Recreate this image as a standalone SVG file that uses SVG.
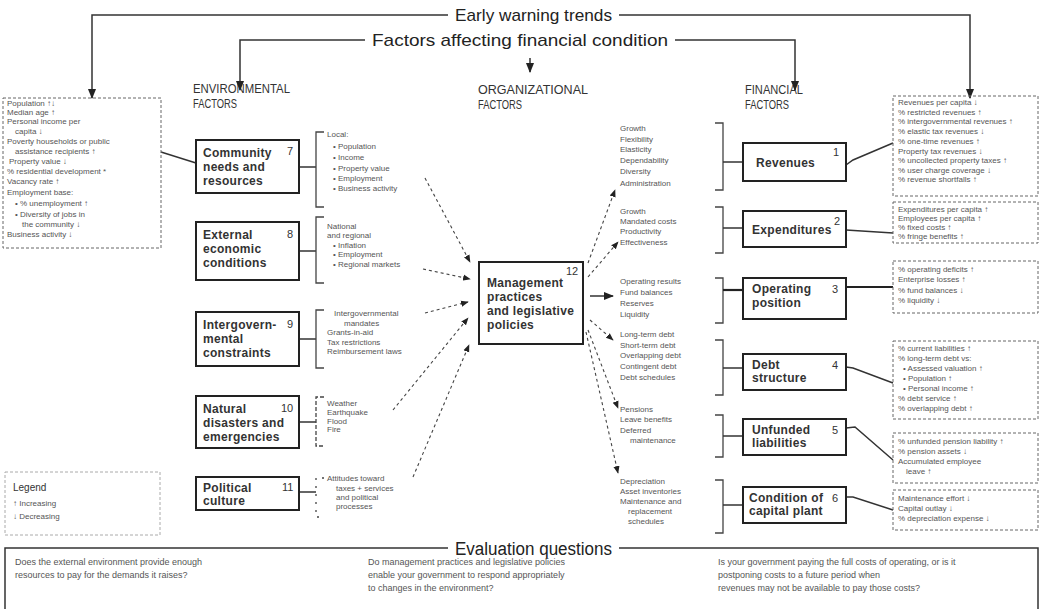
<svg xmlns="http://www.w3.org/2000/svg" width="1043" height="609" viewBox="0 0 1043 609">
<style>
  .bg { fill: #ffffff; }
  .head { font-family: "Liberation Sans Narrow", "Liberation Sans", sans-serif; font-size: 17px; fill: #222; }
  .col { font-family: "Liberation Sans Narrow", "Liberation Sans", sans-serif; font-size: 13px; fill: #333; }
  .box { fill: #fff; stroke: #222; stroke-width: 2; }
  .lbl { font-family: "Liberation Sans", sans-serif; font-size: 12px; font-weight: bold; fill: #333; letter-spacing: 0.3px; }
  .num { font-family: "Liberation Sans", sans-serif; font-size: 11px; fill: #333; }
  .sm { font-family: "Liberation Sans", sans-serif; font-size: 8px; fill: #555; }
  .ind { fill: none; stroke: #666; stroke-width: 1; stroke-dasharray: 3 2; }
  .brk { fill: none; stroke: #444; stroke-width: 1.3; }
  .line { fill: none; stroke: #333; stroke-width: 1.5; }
  .thick { fill: none; stroke: #222; stroke-width: 2.2; }
  .dash { fill: none; stroke: #444; stroke-width: 1.1; stroke-dasharray: 3 3; }
  .q { font-family: "Liberation Sans", sans-serif; font-size: 9px; fill: #555; }
  .leg { font-family: "Liberation Sans", sans-serif; font-size: 10px; fill: #333; }
</style>
<defs>
  <marker id="ah" viewBox="0 0 10 10" refX="9" refY="5" markerWidth="7" markerHeight="7" orient="auto-start-reverse">
    <path d="M0,1 L10,5 L0,9 Z" fill="#222"/>
  </marker>
</defs>
<rect class="bg" x="0" y="0" width="1043" height="609"/>

<!-- headings with their distribution lines -->
<g id="headings">
  <text class="head" x="455" y="21" textLength="157" lengthAdjust="spacingAndGlyphs">Early warning trends</text>
  <text class="head" x="372" y="46" textLength="296" lengthAdjust="spacingAndGlyphs">Factors affecting financial condition</text>
  <text class="col" x="193" y="93" textLength="97" lengthAdjust="spacingAndGlyphs">ENVIRONMENTAL</text>
  <text class="col" x="193" y="108" textLength="44" lengthAdjust="spacingAndGlyphs">FACTORS</text>
  <text class="col" x="478" y="94" textLength="110" lengthAdjust="spacingAndGlyphs">ORGANIZATIONAL</text>
  <text class="col" x="478" y="109" textLength="44" lengthAdjust="spacingAndGlyphs">FACTORS</text>
  <text class="col" x="745" y="94" textLength="58" lengthAdjust="spacingAndGlyphs">FINANCIAL</text>
  <text class="col" x="745" y="109" textLength="44" lengthAdjust="spacingAndGlyphs">FACTORS</text>
</g>

<g id="connectors">
  <!-- early warning trends -->
  <polyline class="line" points="448,15 92,15 92,98" marker-end="url(#ah)"/>
  <polyline class="line" points="619,15 970,15 970,98" marker-end="url(#ah)"/>
  <!-- factors affecting financial condition -->
  <polyline class="line" points="365,40 240,40 240,90" marker-end="url(#ah)"/>
  <polyline class="line" points="675,40 795,40 795,90" marker-end="url(#ah)"/>
  <line class="line" x1="530" y1="58" x2="530" y2="72" marker-end="url(#ah)"/>

  <!-- environmental boxes to brackets -->
  <line class="line" x1="299" y1="167" x2="316" y2="167"/>
  <line class="line" x1="299" y1="251" x2="316" y2="251"/>
  <line class="line" x1="299" y1="339" x2="316" y2="339"/>
  <line class="line" x1="299" y1="422" x2="316" y2="422"/>
  <line class="line" x1="299" y1="492" x2="316" y2="492"/>
  <path class="brk" d="M324,132 H316 V207 H324"/>
  <path class="brk" d="M324,217 H316 V283 H324"/>
  <path class="brk" d="M324,310 H316 V368 H324"/>
  <path class="brk" d="M324,397 H316 V446 H324" stroke-dasharray="4 2"/>
  <path class="brk" d="M324,478 H316 V517 H324" stroke-dasharray="2 6"/>

  <!-- environmental factors into management -->
  <line class="dash" x1="425" y1="178" x2="470" y2="262" marker-end="url(#ah)"/>
  <line class="dash" x1="423" y1="269" x2="470" y2="279" marker-end="url(#ah)"/>
  <line class="dash" x1="425" y1="313" x2="468" y2="302" marker-end="url(#ah)"/>
  <line class="dash" x1="393" y1="410" x2="468" y2="318" marker-end="url(#ah)"/>
  <line class="dash" x1="413" y1="477" x2="469" y2="345" marker-end="url(#ah)"/>

  <!-- management out to organizational factors -->
  <line class="dash" x1="588" y1="263" x2="615" y2="190" marker-end="url(#ah)"/>
  <line class="dash" x1="588" y1="277" x2="618" y2="242" marker-end="url(#ah)"/>
  <line class="line" x1="590" y1="296" x2="613" y2="296" marker-end="url(#ah)"/>
  <line class="dash" x1="590" y1="320" x2="613" y2="340" marker-end="url(#ah)"/>
  <line class="dash" x1="588" y1="330" x2="618" y2="408" marker-end="url(#ah)"/>
  <line class="dash" x1="586" y1="332" x2="618" y2="473" marker-end="url(#ah)"/>

  <!-- brackets to financial boxes -->
  <path class="brk" d="M715,123 H723 V190 H715"/>
  <path class="brk" d="M715,207 H723 V253 H715"/>
  <path class="brk" d="M715,278 H723 V323 H715"/>
  <path class="brk" d="M715,340 H723 V395 H715"/>
  <path class="brk" d="M715,415 H723 V457 H715"/>
  <path class="brk" d="M715,480 H723 V533 H715"/>
  <line class="line" x1="723" y1="162" x2="743" y2="162"/>
  <line class="line" x1="723" y1="228" x2="743" y2="228"/>
  <line class="thick" x1="723" y1="290" x2="743" y2="290"/>
  <line class="line" x1="723" y1="368" x2="743" y2="368"/>
  <line class="line" x1="723" y1="436" x2="743" y2="436"/>
  <line class="line" x1="723" y1="505" x2="743" y2="505"/>

  <!-- financial boxes to indicator lists -->
  <polyline class="line" points="846,165 853,160 893,143"/>
  <line class="line" x1="846" y1="230" x2="893" y2="233"/>
  <line class="thick" x1="846" y1="287" x2="893" y2="287"/>
  <polyline class="line" points="846,367 853,368 893,383"/>
  <polyline class="line" points="846,428 855,427 893,460"/>
  <polyline class="line" points="846,497 853,497 893,510"/>

  <!-- community trends to community box -->
  <line class="line" x1="161" y1="152" x2="196" y2="163"/>
</g>

<!-- environmental trend indicators -->
<g id="env-indicators">
  <rect class="ind" x="3" y="98" width="158" height="150"/>
  <text class="sm" x="7" y="106">Population ↑↓</text>
  <text class="sm" x="7" y="115">Median age ↑</text>
  <text class="sm" x="7" y="124">Personal income per</text>
  <text class="sm" x="15" y="134">capita ↓</text>
  <text class="sm" x="7" y="144">Poverty households or public</text>
  <text class="sm" x="15" y="154">assistance recipients ↑</text>
  <text class="sm" x="9" y="164">Property value ↓</text>
  <text class="sm" x="7" y="174">% residential development *</text>
  <text class="sm" x="7" y="184">Vacancy rate ↑</text>
  <text class="sm" x="7" y="195">Employment base:</text>
  <text class="sm" x="15" y="206">• % unemployment ↑</text>
  <text class="sm" x="15" y="217">• Diversity of jobs in</text>
  <text class="sm" x="22" y="227">the community ↓</text>
  <text class="sm" x="7" y="237">Business activity ↓</text>
</g>

<g id="community">
  <rect class="box" x="196" y="140" width="103" height="53"/>
  <text class="lbl" x="203" y="157">Community</text>
  <text class="lbl" x="203" y="171">needs and</text>
  <text class="lbl" x="203" y="185">resources</text>
  <text class="num" x="287" y="155">7</text>
  <text class="sm" x="327" y="137">Local:</text>
  <text class="sm" x="333" y="149">• Population</text>
  <text class="sm" x="333" y="160">• Income</text>
  <text class="sm" x="333" y="171">• Property value</text>
  <text class="sm" x="333" y="181">• Employment</text>
  <text class="sm" x="333" y="191">• Business activity</text>
</g>

<g id="external">
  <rect class="box" x="196" y="222" width="103" height="58"/>
  <text class="lbl" x="203" y="239">External</text>
  <text class="lbl" x="203" y="253">economic</text>
  <text class="lbl" x="203" y="267">conditions</text>
  <text class="num" x="287" y="238">8</text>
  <text class="sm" x="327" y="229">National</text>
  <text class="sm" x="327" y="238">and regional</text>
  <text class="sm" x="333" y="248">• Inflation</text>
  <text class="sm" x="333" y="257">• Employment</text>
  <text class="sm" x="333" y="267">• Regional markets</text>
</g>

<g id="intergovernmental">
  <rect class="box" x="196" y="312" width="103" height="54"/>
  <text class="lbl" x="203" y="329">Intergovern-</text>
  <text class="lbl" x="203" y="343">mental</text>
  <text class="lbl" x="203" y="357">constraints</text>
  <text class="num" x="287" y="328">9</text>
  <text class="sm" x="334" y="316">Intergovernmental</text>
  <text class="sm" x="344" y="326">mandates</text>
  <text class="sm" x="327" y="335">Grants-in-aid</text>
  <text class="sm" x="327" y="345">Tax restrictions</text>
  <text class="sm" x="327" y="354">Reimbursement laws</text>
</g>

<g id="natural">
  <rect class="box" x="196" y="396" width="103" height="52"/>
  <text class="lbl" x="203" y="413">Natural</text>
  <text class="lbl" x="203" y="427">disasters and</text>
  <text class="lbl" x="203" y="441">emergencies</text>
  <text class="num" x="281" y="412">10</text>
  <text class="sm" x="327" y="406">Weather</text>
  <text class="sm" x="327" y="415">Earthquake</text>
  <text class="sm" x="327" y="424">Flood</text>
  <text class="sm" x="327" y="432">Fire</text>
</g>

<g id="political">
  <rect class="box" x="196" y="477" width="103" height="33"/>
  <text class="lbl" x="203" y="492">Political</text>
  <text class="lbl" x="203" y="505">culture</text>
  <text class="num" x="282" y="491">11</text>
  <text class="sm" x="327" y="481">Attitudes toward</text>
  <text class="sm" x="336" y="491">taxes + services</text>
  <text class="sm" x="336" y="500">and political</text>
  <text class="sm" x="336" y="509">processes</text>
</g>

<g id="management">
  <rect class="box" x="479" y="262" width="104" height="82"/>
  <text class="lbl" x="487" y="287">Management</text>
  <text class="lbl" x="487" y="301">practices</text>
  <text class="lbl" x="487" y="315">and legislative</text>
  <text class="lbl" x="487" y="329">policies</text>
  <text class="num" x="566" y="275">12</text>
</g>

<!-- organizational factor lists -->
<g id="org-revenues">
  <text class="sm" x="620" y="131">Growth</text>
  <text class="sm" x="620" y="142">Flexibility</text>
  <text class="sm" x="620" y="152">Elasticity</text>
  <text class="sm" x="620" y="163">Dependability</text>
  <text class="sm" x="620" y="174">Diversity</text>
  <text class="sm" x="620" y="186">Administration</text>
</g>
<g id="org-expenditures">
  <text class="sm" x="620" y="214">Growth</text>
  <text class="sm" x="620" y="224">Mandated costs</text>
  <text class="sm" x="620" y="234">Productivity</text>
  <text class="sm" x="620" y="245">Effectiveness</text>
</g>
<g id="org-operating">
  <text class="sm" x="620" y="284">Operating results</text>
  <text class="sm" x="620" y="295">Fund balances</text>
  <text class="sm" x="620" y="306">Reserves</text>
  <text class="sm" x="620" y="317">Liquidity</text>
</g>
<g id="org-debt">
  <text class="sm" x="620" y="337">Long-term debt</text>
  <text class="sm" x="620" y="348">Short-term debt</text>
  <text class="sm" x="620" y="358">Overlapping debt</text>
  <text class="sm" x="620" y="369">Contingent debt</text>
  <text class="sm" x="620" y="380">Debt schedules</text>
</g>
<g id="org-liabilities">
  <text class="sm" x="620" y="412">Pensions</text>
  <text class="sm" x="620" y="422">Leave benefits</text>
  <text class="sm" x="620" y="433">Deferred</text>
  <text class="sm" x="630" y="443">maintenance</text>
</g>
<g id="org-plant">
  <text class="sm" x="620" y="484">Depreciation</text>
  <text class="sm" x="620" y="494">Asset inventories</text>
  <text class="sm" x="620" y="504">Maintenance and</text>
  <text class="sm" x="628" y="514">replacement</text>
  <text class="sm" x="628" y="524">schedules</text>
</g>

<!-- financial factor boxes -->
<g id="revenues">
  <rect class="box" x="743" y="143" width="103" height="38"/>
  <text class="lbl" x="756" y="167">Revenues</text>
  <text class="num" x="833" y="156">1</text>
</g>
<g id="expenditures">
  <rect class="box" x="743" y="211" width="103" height="36"/>
  <text class="lbl" x="752" y="234">Expenditures</text>
  <text class="num" x="834" y="225">2</text>
</g>
<g id="operating">
  <rect class="box" x="743" y="278" width="103" height="41"/>
  <text class="lbl" x="752" y="293">Operating</text>
  <text class="lbl" x="752" y="307">position</text>
  <text class="num" x="832" y="293">3</text>
</g>
<g id="debt">
  <rect class="box" x="743" y="354" width="103" height="36"/>
  <text class="lbl" x="752" y="369">Debt</text>
  <text class="lbl" x="752" y="382">structure</text>
  <text class="num" x="832" y="369">4</text>
</g>
<g id="unfunded">
  <rect class="box" x="743" y="419" width="103" height="36"/>
  <text class="lbl" x="752" y="434">Unfunded</text>
  <text class="lbl" x="752" y="447">liabilities</text>
  <text class="num" x="832" y="434">5</text>
</g>
<g id="capital">
  <rect class="box" x="743" y="487" width="103" height="36"/>
  <text class="lbl" x="749" y="502">Condition of</text>
  <text class="lbl" x="749" y="515">capital plant</text>
  <text class="num" x="832" y="502">6</text>
</g>

<!-- financial trend indicators -->
<g id="ind-revenues">
  <rect class="ind" x="893" y="96" width="145" height="100"/>
  <text class="sm" x="898" y="105">Revenues per capita ↓</text>
  <text class="sm" x="898" y="115">% restricted revenues ↑</text>
  <text class="sm" x="898" y="124">% intergovernmental revenues ↑</text>
  <text class="sm" x="898" y="134">% elastic tax revenues ↓</text>
  <text class="sm" x="898" y="144">% one-time revenues ↑</text>
  <text class="sm" x="898" y="154">Property tax revenues ↓</text>
  <text class="sm" x="898" y="163">% uncollected property taxes ↑</text>
  <text class="sm" x="898" y="173">% user charge coverage ↓</text>
  <text class="sm" x="898" y="182">% revenue shortfalls ↑</text>
</g>
<g id="ind-expenditures">
  <rect class="ind" x="893" y="202" width="145" height="41"/>
  <text class="sm" x="898" y="212">Expenditures per capita ↑</text>
  <text class="sm" x="898" y="221">Employees per capita ↑</text>
  <text class="sm" x="898" y="230">% fixed costs ↑</text>
  <text class="sm" x="898" y="239">% fringe benefits ↑</text>
</g>
<g id="ind-operating">
  <rect class="ind" x="893" y="261" width="145" height="52"/>
  <text class="sm" x="898" y="272">% operating deficits ↑</text>
  <text class="sm" x="898" y="282">Enterprise losses ↑</text>
  <text class="sm" x="898" y="293">% fund balances ↓</text>
  <text class="sm" x="898" y="303">% liquidity ↓</text>
</g>
<g id="ind-debt">
  <rect class="ind" x="893" y="341" width="145" height="78"/>
  <text class="sm" x="898" y="351">% current liabilities ↑</text>
  <text class="sm" x="898" y="361">% long-term debt vs:</text>
  <text class="sm" x="903" y="371">• Assessed valuation ↑</text>
  <text class="sm" x="903" y="381">• Population ↑</text>
  <text class="sm" x="903" y="391">• Personal income ↑</text>
  <text class="sm" x="898" y="401">% debt service ↑</text>
  <text class="sm" x="898" y="411">% overlapping debt ↑</text>
</g>
<g id="ind-liabilities">
  <rect class="ind" x="893" y="433" width="145" height="50"/>
  <text class="sm" x="898" y="444">% unfunded pension liability ↑</text>
  <text class="sm" x="898" y="454">% pension assets ↓</text>
  <text class="sm" x="898" y="464">Accumulated employee</text>
  <text class="sm" x="906" y="474">leave ↑</text>
</g>
<g id="ind-plant">
  <rect class="ind" x="893" y="490" width="145" height="40"/>
  <text class="sm" x="898" y="501">Maintenance effort ↓</text>
  <text class="sm" x="898" y="511">Capital outlay ↓</text>
  <text class="sm" x="898" y="521">% depreciation expense ↓</text>
</g>

<g id="legend">
  <rect class="ind" x="5" y="472" width="155" height="63" style="stroke:#aaa"/>
  <text class="leg" x="13" y="491">Legend</text>
  <text class="sm" x="13" y="506">↑   Increasing</text>
  <text class="sm" x="13" y="519">↓   Decreasing</text>
</g>

<g id="evaluation">
  <polyline class="line" points="448,548 5,548 5,609"/>
  <polyline class="line" points="619,548 1038,548 1038,609"/>
  <text class="head" x="455" y="555" style="font-size:18px" textLength="157" lengthAdjust="spacingAndGlyphs">Evaluation questions</text>
  <text class="q" x="15" y="565">Does the external environment provide enough</text>
  <text class="q" x="15" y="578">resources to pay for the demands it raises?</text>
  <text class="q" x="368" y="565">Do management practices and legislative policies</text>
  <text class="q" x="368" y="578">enable your government to respond appropriately</text>
  <text class="q" x="368" y="591">to changes in the environment?</text>
  <text class="q" x="718" y="565">Is your government paying the full costs of operating, or is it</text>
  <text class="q" x="718" y="578">postponing costs to a future period when</text>
  <text class="q" x="718" y="591">revenues may not be available to pay those costs?</text>
</g>
</svg>
